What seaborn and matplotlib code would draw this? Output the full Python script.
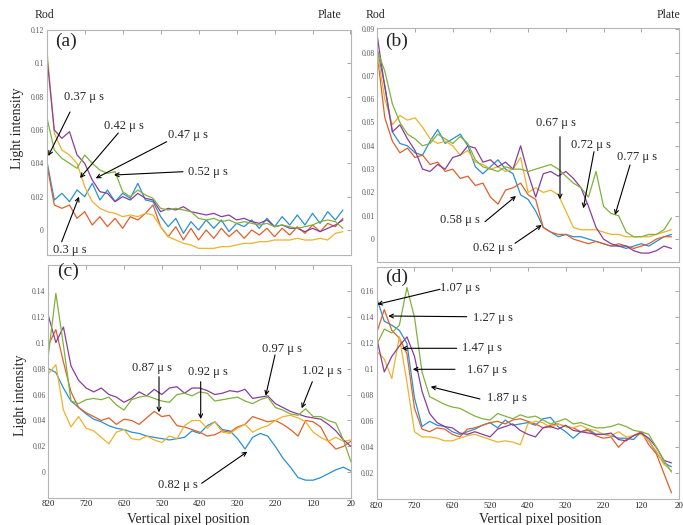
import matplotlib
matplotlib.use("Agg")
import matplotlib.pyplot as plt
import pandas as pd
import seaborn as sns

sns.set_theme(style="white")
plt.rcParams['font.family'] = ['Liberation Serif', 'DejaVu Serif']

# vertical pixel positions (x axis), read every 20 px
pos = list(range(820, 39, -20))      # panels a, b, d : 820 .. 40
pos_c = list(range(820, 19, -20))    # panel c runs to 20

# ---- panel (a) : 0.3 .. 0.52 us
a_030 = [0.042, 0.018, 0.022, 0.017, 0.024, 0.020, 0.028, 0.018, 0.024, 0.017,
         0.022, 0.019, 0.028, 0.018, 0.017, 0.008, 0.002, 0.007, -0.002, 0.005,
         0.000, 0.006, 0.001, 0.006, -0.001, 0.004, 0.002, 0.006, 0.001, 0.007,
         0.002, 0.008, 0.003, 0.009, 0.003, 0.010, 0.004, 0.011, 0.006, 0.012]
a_037 = [0.040, 0.015, 0.013, 0.015, 0.007, 0.011, 0.003, 0.008, 0.002, 0.007,
         0.001, 0.008, 0.006, 0.010, 0.015, 0.002, -0.004, 0.002, -0.006, 0.001,
         -0.006, 0.000, -0.005, 0.001, -0.004, 0.000, -0.005, 0.000, -0.003, 0.001,
         -0.004, 0.001, -0.003, 0.002, -0.002, 0.003, -0.001, 0.004, 0.002, 0.007]
a_042 = [0.110, 0.058, 0.048, 0.045, 0.040, 0.026, 0.017, 0.013, 0.011, 0.010,
         0.008, 0.009, 0.008, 0.010, 0.009, 0.002, -0.004, -0.006, -0.008, -0.009,
         -0.011, -0.011, -0.011, -0.010, -0.010, -0.009, -0.008, -0.008, -0.007, -0.007,
         -0.006, -0.006, -0.006, -0.005, -0.006, -0.006, -0.005, -0.006, -0.002, -0.001]
a_047 = [0.105, 0.060, 0.055, 0.059, 0.045, 0.040, 0.030, 0.023, 0.022, 0.017,
         0.020, 0.018, 0.022, 0.019, 0.018, 0.011, 0.013, 0.012, 0.014, 0.011,
         0.010, 0.009, 0.010, 0.008, 0.009, 0.006, 0.007, 0.005, 0.004, 0.006,
         0.002, 0.003, 0.001, 0.001, -0.001, 0.001, -0.001, 0.001, 0.003, 0.006]
a_052 = [0.068, 0.048, 0.043, 0.040, 0.037, 0.045, 0.040, 0.036, 0.034, 0.035,
         0.023, 0.020, 0.024, 0.021, 0.019, 0.013, 0.012, 0.013, 0.012, 0.011,
         0.007, 0.006, 0.007, 0.005, 0.006, 0.004, 0.005, 0.004, 0.003, 0.004,
         0.002, 0.003, 0.002, 0.001, 0.002, 0.003, 0.005, 0.006, 0.005, 0.001]

# ---- panel (b) : 0.58 .. 0.77 us
b_058 = [0.081, 0.066, 0.046, 0.041, 0.040, 0.037, 0.036, 0.042, 0.047, 0.041,
         0.043, 0.045, 0.040, 0.031, 0.028, 0.031, 0.034, 0.030, 0.028, 0.019,
         0.017, 0.012, 0.005, 0.003, 0.001, 0.002, 0.001, 0.001, 0.000, -0.001,
         -0.002, -0.003, -0.003, -0.004, -0.003, -0.002, -0.003, -0.001, 0.001, 0.002]
b_062 = [0.079, 0.052, 0.042, 0.037, 0.039, 0.035, 0.036, 0.032, 0.033, 0.029,
         0.030, 0.026, 0.027, 0.023, 0.024, 0.018, 0.015, 0.021, 0.022, 0.024,
         0.019, 0.017, 0.005, 0.003, 0.002, 0.002, 0.000, -0.001, -0.002, -0.001,
         -0.002, -0.003, -0.002, -0.003, -0.004, -0.003, -0.002, 0.000, 0.001, 0.001]
b_067 = [0.080, 0.060, 0.049, 0.053, 0.051, 0.052, 0.048, 0.043, 0.041, 0.042,
         0.040, 0.036, 0.038, 0.033, 0.032, 0.030, 0.031, 0.029, 0.030, 0.035,
         0.020, 0.022, 0.020, 0.021, 0.019, 0.012, 0.005, 0.004, 0.004, 0.004,
         0.003, 0.002, 0.002, 0.001, 0.001, 0.001, 0.001, 0.002, 0.003, 0.004]
b_072 = [0.087, 0.065, 0.046, 0.049, 0.043, 0.038, 0.030, 0.029, 0.032, 0.030,
         0.035, 0.036, 0.040, 0.039, 0.033, 0.034, 0.031, 0.033, 0.030, 0.040,
         0.028, 0.018, 0.028, 0.029, 0.027, 0.029, 0.026, 0.022, 0.014, 0.005,
         0.000, -0.002, -0.003, -0.003, -0.005, -0.006, -0.006, -0.005, -0.003, -0.004]
b_077 = [0.081, 0.072, 0.058, 0.050, 0.045, 0.043, 0.040, 0.041, 0.045, 0.043,
         0.041, 0.044, 0.041, 0.034, 0.031, 0.030, 0.029, 0.031, 0.030, 0.030,
         0.029, 0.030, 0.031, 0.032, 0.030, 0.027, 0.024, 0.022, 0.018, 0.029,
         0.014, 0.011, 0.010, 0.003, 0.001, 0.001, 0.002, 0.002, 0.004, 0.009]

# ---- panel (c) : 0.82 .. 1.02 us
c_082 = [0.080, 0.077, 0.065, 0.055, 0.050, 0.045, 0.041, 0.039, 0.036, 0.034,
         0.033, 0.031, 0.030, 0.028, 0.027, 0.026, 0.025, 0.026, 0.027, 0.032,
         0.030, 0.036, 0.039, 0.033, 0.032, 0.026, 0.018, 0.027, 0.030, 0.028,
         0.020, 0.011, 0.004, -0.004, -0.006, -0.006, -0.004, -0.001, 0.002, 0.004, 0.001]
c_087 = [0.098, 0.110, 0.085, 0.062, 0.050, 0.046, 0.043, 0.040, 0.042, 0.037,
         0.041, 0.040, 0.037, 0.042, 0.047, 0.043, 0.044, 0.036, 0.035, 0.033,
         0.031, 0.028, 0.029, 0.032, 0.031, 0.035, 0.037, 0.043, 0.041, 0.039,
         0.040, 0.037, 0.033, 0.028, 0.040, 0.039, 0.035, 0.024, 0.018, 0.020, 0.024]
c_092 = [0.076, 0.083, 0.048, 0.035, 0.043, 0.034, 0.032, 0.027, 0.022, 0.031,
         0.033, 0.026, 0.025, 0.028, 0.025, 0.023, 0.028, 0.026, 0.036, 0.040,
         0.040, 0.034, 0.039, 0.031, 0.030, 0.034, 0.037, 0.031, 0.034, 0.036,
         0.040, 0.043, 0.044, 0.042, 0.039, 0.031, 0.027, 0.024, 0.027, 0.024, 0.025]
c_097 = [0.121, 0.100, 0.112, 0.082, 0.071, 0.065, 0.062, 0.065, 0.060, 0.058,
         0.054, 0.057, 0.062, 0.059, 0.064, 0.060, 0.065, 0.066, 0.061, 0.065,
         0.065, 0.063, 0.060, 0.061, 0.063, 0.062, 0.064, 0.057, 0.058, 0.059,
         0.053, 0.050, 0.047, 0.045, 0.043, 0.042, 0.041, 0.037, 0.032, 0.025, 0.020]
c_102 = [0.090, 0.138, 0.098, 0.055, 0.053, 0.056, 0.057, 0.056, 0.058, 0.052,
         0.048, 0.056, 0.058, 0.059, 0.057, 0.055, 0.054, 0.060, 0.061, 0.059,
         0.062, 0.061, 0.055, 0.056, 0.057, 0.058, 0.055, 0.053, 0.056, 0.058,
         0.050, 0.048, 0.045, 0.044, 0.049, 0.043, 0.043, 0.040, 0.038, 0.025, 0.008]

# ---- panel (d) : 1.07 .. 1.87 us
d_107 = [0.155, 0.137, 0.134, 0.130, 0.120, 0.078, 0.056, 0.060, 0.057, 0.056,
         0.052, 0.050, 0.052, 0.054, 0.057, 0.059, 0.055, 0.061, 0.057, 0.058,
         0.059, 0.057, 0.062, 0.063, 0.056, 0.052, 0.047, 0.052, 0.054, 0.050,
         0.050, 0.049, 0.047, 0.047, 0.046, 0.052, 0.045, 0.036, 0.028, 0.025]
d_127 = [0.128, 0.146, 0.130, 0.124, 0.112, 0.070, 0.054, 0.052, 0.055, 0.054,
         0.050, 0.048, 0.054, 0.055, 0.057, 0.059, 0.060, 0.058, 0.061, 0.062,
         0.060, 0.058, 0.055, 0.057, 0.058, 0.056, 0.055, 0.052, 0.053, 0.049,
         0.047, 0.048, 0.040, 0.046, 0.049, 0.052, 0.042, 0.035, 0.020, 0.005]
d_147 = [0.114, 0.108, 0.093, 0.125, 0.090, 0.052, 0.048, 0.048, 0.047, 0.045,
         0.045, 0.047, 0.049, 0.050, 0.048, 0.046, 0.044, 0.045, 0.044, 0.042,
         0.058, 0.060, 0.059, 0.055, 0.058, 0.056, 0.055, 0.057, 0.054, 0.053,
         0.050, 0.049, 0.052, 0.048, 0.049, 0.050, 0.045, 0.037, 0.027, 0.022]
d_167 = [0.124, 0.098, 0.110, 0.118, 0.125, 0.110, 0.083, 0.066, 0.059, 0.056,
         0.055, 0.051, 0.050, 0.052, 0.050, 0.048, 0.054, 0.056, 0.058, 0.053,
         0.050, 0.048, 0.055, 0.056, 0.054, 0.057, 0.053, 0.052, 0.051, 0.050,
         0.050, 0.051, 0.046, 0.045, 0.049, 0.051, 0.047, 0.040, 0.030, 0.028]
d_187 = [0.119, 0.131, 0.128, 0.134, 0.163, 0.140, 0.098, 0.079, 0.076, 0.073,
         0.071, 0.070, 0.067, 0.064, 0.062, 0.061, 0.066, 0.064, 0.062, 0.065,
         0.063, 0.064, 0.061, 0.058, 0.060, 0.062, 0.058, 0.059, 0.057, 0.055,
         0.055, 0.056, 0.058, 0.056, 0.053, 0.052, 0.050, 0.040, 0.030, 0.021]

# MATLAB-like default line colours (blue, orange, yellow, purple, green)
colors = ['#2a8fd0', '#e0602a', '#eeb22a', '#8a3d9a', '#7fb23c']

panels = [
    ('(a)', pos, [a_030, a_037, a_042, a_047, a_052], (-0.015, 0.12), [0, 0.02, 0.04, 0.06, 0.08, 0.1, 0.12]),
    ('(b)', pos, [b_058, b_062, b_067, b_072, b_077], (-0.0097, 0.0904), [0, 0.01, 0.02, 0.03, 0.04, 0.05, 0.06, 0.07, 0.08, 0.09]),
    ('(c)', pos_c, [c_082, c_087, c_092, c_097, c_102], (-0.0195, 0.1598), [0, 0.02, 0.04, 0.06, 0.08, 0.1, 0.12, 0.14]),
    ('(d)', pos, [d_107, d_127, d_147, d_167, d_187], (0.0, 0.179), [0.02, 0.04, 0.06, 0.08, 0.1, 0.12, 0.14, 0.16]),
]

W, H = 683, 525
fig = plt.figure(figsize=(W / 100, H / 100), dpi=100)

# axes boxes in pixels: left, top, right, bottom
boxes = [(46.7, 30, 350.5, 255), (377.3, 28.3, 679, 261.7),
         (48.3, 265, 351, 497.7), (376.7, 266.7, 679, 499.3)]
label_pos = [(0.027, 0.948), (0.026, 0.943), (0.028, 0.972), (0.027, 0.956)]

def fx(x):
    return x / W

def fy(y):
    return 1 - y / H

for k, (name, xs, series, ylim, yt) in enumerate(panels):
    l, t, r, b = boxes[k]
    ax = fig.add_axes([fx(l), fy(b), (r - l) / W, (b - t) / H])
    frames = []
    for j, s in enumerate(series):
        frames.append(pd.DataFrame({'pos': xs, 'I': s, 'run': j}))
    df = pd.concat(frames)
    sns.lineplot(data=df, x='pos', y='I', hue='run', palette=colors, estimator=None,
                 sort=False, legend=False, lw=0.9, ax=ax)
    ax.set_xlim(820, 20)
    ax.set_ylim(*ylim)
    ax.set_xticks(range(820, 19, -100))
    ax.set_yticks(yt)
    ax.set_yticklabels(['%g' % v for v in yt], fontsize=5.5, color='#555555')
    if k < 2:
        ax.set_xticklabels([])
    else:
        ax.set_xticklabels([str(v) for v in range(820, 19, -100)], fontsize=6.5, color='#222222')
    ax.set_xlabel('')
    ax.set_ylabel('')
    ax.tick_params(direction='in', top=True, right=True, length=3, width=0.6,
                   color='#999999', pad=2)
    for sp in ax.spines.values():
        sp.set_color('#b5b5b5')
        sp.set_linewidth(0.8)
    ax.text(label_pos[k][0], label_pos[k][1], name, transform=ax.transAxes,
            fontsize=14, va='center', ha='left')

# axis titles
fig.text(fx(18), fy(128), 'Light intensity', rotation=90, fontsize=10, ha='center', va='center')
fig.text(fx(21), fy(395), 'Light intensity', rotation=90, fontsize=10, ha='center', va='center')
fig.text(fx(188), fy(520), 'Vertical pixel position', fontsize=10, ha='center', va='center')
fig.text(fx(540), fy(520), 'Vertical pixel position', fontsize=10, ha='center', va='center')

# Rod / Plate markers
for x, txt in [(35, 'Rod'), (318, 'Plate'), (366, 'Rod'), (657, 'Plate')]:
    fig.text(fx(x), fy(15), txt, fontsize=8.5, ha='left', va='center')

# time labels with arrows: text left/y, arrow tail, arrow tip (pixels)
notes = [
    ('0.37 μ s', 64, 97, (70, 112), (48.3, 156)),
    ('0.42 μ s', 104, 126, (118.3, 133), (80, 178)),
    ('0.47 μ s', 168, 135, (166.7, 141.7), (95.7, 178.3)),
    ('0.52 μ s', 188, 172, (183, 171.7), (114, 175)),
    ('0.3 μ s', 53, 250, (61.7, 241.7), (79, 196.7)),
    ('0.67 μ s', 536, 122.7, (560, 136.7), (560, 199.3)),
    ('0.72 μ s', 571, 145, (594, 151.7), (583.3, 208.3)),
    ('0.77 μ s', 617, 156.7, (630, 165), (615, 215)),
    ('0.58 μ s', 440, 220, (485, 221.7), (516, 196)),
    ('0.62 μ s', 473, 248, (515, 243.3), (541.7, 225)),
    ('0.87 μ s', 131.7, 368.3, (159, 376.7), (159, 412.3)),
    ('0.92 μ s', 188, 372, (200.7, 381.7), (200.7, 419)),
    ('0.97 μ s', 261.7, 349.3, (275, 355), (265.7, 395.7)),
    ('1.02 μ s', 301.7, 371, (312.3, 381.7), (301.7, 408.3)),
    ('0.82 μ s', 158.3, 485, (201.7, 483.3), (247.3, 451.7)),
    ('1.07 μ s', 440, 288.3, (440, 289.3), (377.3, 304.3)),
    ('1.27 μ s', 473.3, 318.3, (466.7, 316.7), (388.3, 316)),
    ('1.47 μ s', 461.7, 348.3, (456.7, 348.3), (401.7, 348.3)),
    ('1.67 μ s', 466.7, 370, (455, 369.3), (412.7, 369.3)),
    ('1.87 μ s', 486.7, 398.3, (480, 399), (430.7, 386.7)),
]
for txt, tx, ty, tail, tip in notes:
    fig.text(fx(tx), fy(ty), txt, fontsize=9, ha='left', va='center')
    fig.add_artist(plt.matplotlib.patches.FancyArrowPatch(
        (fx(tail[0]), fy(tail[1])), (fx(tip[0]), fy(tip[1])),
        transform=fig.transFigure, arrowstyle='->', mutation_scale=7,
        lw=0.8, color='black', shrinkA=0, shrinkB=0))

fig.savefig('out.png', dpi=100)
